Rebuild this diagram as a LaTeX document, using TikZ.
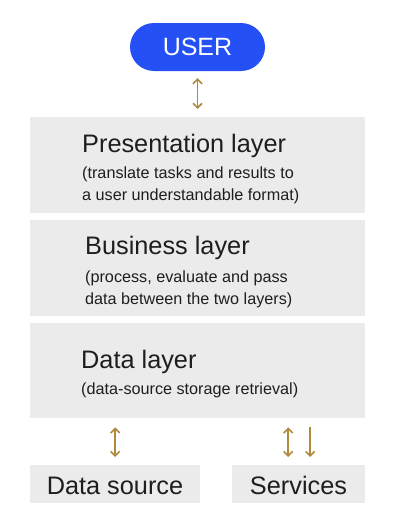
\documentclass[tikz,border=0pt]{standalone}
\usepackage{fontspec}
\setmainfont{Liberation Sans}
\usetikzlibrary{arrows.meta}
\definecolor{userblue}{RGB}{36,80,245}
\definecolor{boxgray}{RGB}{235,235,235}
\definecolor{gold}{RGB}{176,138,58}
\definecolor{ink}{RGB}{30,30,30}
\begin{document}
\begin{tikzpicture}[x=1pt,y=-1pt,
  layerbox/.style={fill=boxgray,draw=none,anchor=north west,inner sep=0pt},
  title/.style={anchor=base west,inner sep=0pt,text=ink,font=\fontsize{25.3}{28}\selectfont},
  sub/.style={anchor=base west,inner sep=0pt,text=ink,font=\fontsize{16.2}{22}\selectfont,align=left},
  arr/.style={draw=gold,line width=1.6pt,{Straight Barb[length=4.5pt,width=9pt]}-{Straight Barb[length=4.5pt,width=9pt]}},
  darr/.style={draw=gold,line width=1.6pt,-{Straight Barb[length=4.5pt,width=9pt]}}]
\useasboundingbox (0,0) rectangle (400,530);
% user pill
\node[fill=userblue,rounded corners=24pt,minimum width=135pt,minimum height=48pt,inner sep=0pt,
  text=white,font=\fontsize{25}{28}\selectfont] (user) at (197.5,47) {USER};
% layer boxes
\node[layerbox,minimum width=335pt,minimum height=96pt] (pres) at (30,117) {};
\node[layerbox,minimum width=335pt,minimum height=96pt] (bus) at (30,220) {};
\node[layerbox,minimum width=335pt,minimum height=95pt] (data) at (30,323) {};
\node[layerbox,minimum width=170pt,minimum height=38pt] (src) at (30,465) {};
\node[layerbox,minimum width=133pt,minimum height=38pt] (serv) at (232,465) {};
% texts
\node[title] (prest) at (82,152) {Presentation layer};
\node[sub] (pres1) at (82,178) {(translate tasks and results to};
\node[sub] (pres2) at (82,200) {a user understandable format)};
\node[title] (bust) at (85,254) {Business layer};
\node[sub] (bus1) at (85,282) {(process, evaluate and pass};
\node[sub] (bus2) at (85,304) {data between the two layers)};
\node[title] (datat) at (81,368) {Data layer};
\node[sub] (data1) at (81,394) {(data-source storage retrieval)};
\node[title,anchor=base] (srct) at (115,494) {Data source};
\node[title,anchor=base] (servt) at (298.5,494) {Services};
% connectors
\draw[arr] ([yshift=-7pt]user.south) -- ([yshift=8pt]user.south |- pres.north);
\draw[arr] ([yshift=-9pt]src.north |- data.south) -- ([yshift=8pt]src.north);
\coordinate (s1) at ([xshift=-10.5pt]serv.north);
\coordinate (s2) at ([xshift=11.5pt]serv.north);
\draw[arr] ([yshift=-9pt]s1 |- data.south) -- ([yshift=8pt]s1);
\draw[darr] ([yshift=-9pt]s2 |- data.south) -- ([yshift=8pt]s2);
\end{tikzpicture}
\end{document}
